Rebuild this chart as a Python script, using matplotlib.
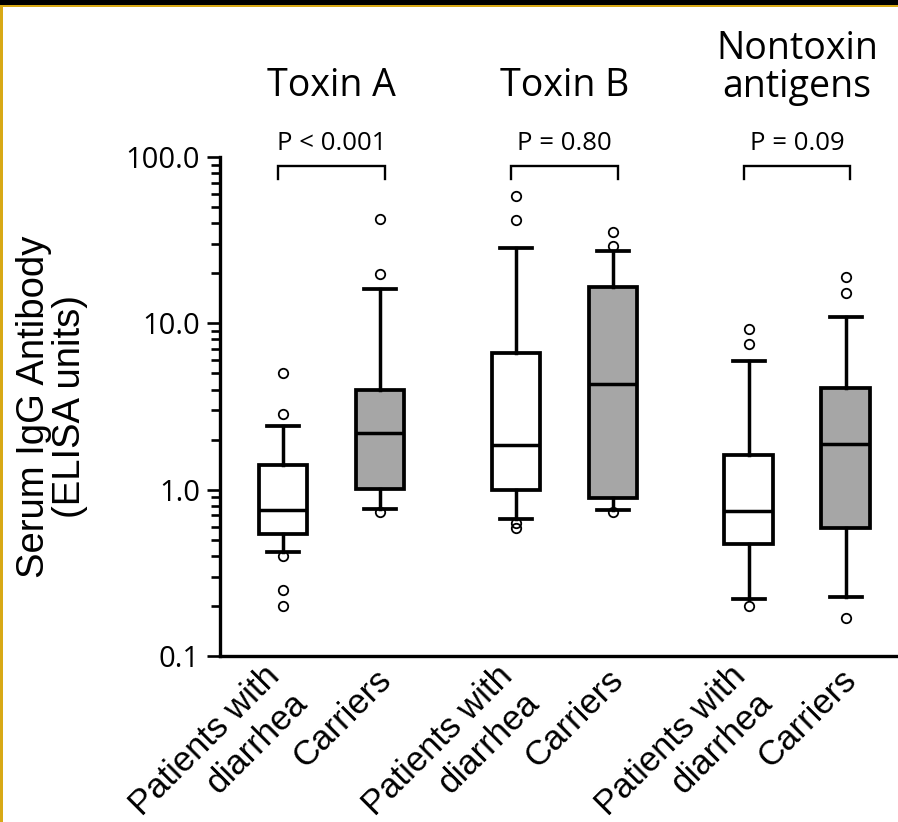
import matplotlib
matplotlib.use('Agg')
import matplotlib.pyplot as plt
import matplotlib.ticker as mticker
import matplotlib.transforms as mtrans
from matplotlib.patches import Rectangle

# data
groups = ['Toxin A', 'Toxin B', 'Nontoxin\nantigens']
pvalues = ['P < 0.001', 'P = 0.80', 'P = 0.09']
labels = ['Patients with\ndiarrhea', 'Carriers'] * 3
positions = [0, 1, 2.4, 3.4, 4.8, 5.8]
q1 = [0.54, 1.01, 1.00, 0.89, 0.47, 0.59]
med = [0.75, 2.18, 1.85, 4.33, 0.74, 1.88]
q3 = [1.41, 3.98, 6.62, 16.5, 1.61, 4.08]
whislo = [0.42, 0.77, 0.67, 0.755, 0.22, 0.225]
whishi = [2.4, 16.0, 28.4, 27.3, 5.93, 10.9]
fliers = [[5.0, 2.86, 0.40, 0.249, 0.199],
          [42.2, 19.7, 0.73],
          [58.5, 41.7, 0.63, 0.59],
          [35.5, 29.1, 0.73],
          [9.3, 7.55, 0.20],
          [19.0, 15.2, 0.17]]
fills = ['white', '#a6a6a6'] * 3

stats = []
for i in range(len(positions)):
    stats.append(dict(med=med[i], q1=q1[i], q3=q3[i], whislo=whislo[i],
                      whishi=whishi[i], fliers=fliers[i]))

fig = plt.figure(figsize=(8.98, 8.22), dpi=100)
ax = fig.add_axes([220/898, 166/822, 1 - 220/898, 499/822])

bp = ax.bxp(stats, positions=positions, widths=0.5, capwidths=0.33,
            patch_artist=True,
            boxprops=dict(linewidth=2.7, edgecolor='black'),
            whiskerprops=dict(linewidth=2.5, color='black'),
            capprops=dict(linewidth=2.7, color='black'),
            medianprops=dict(linewidth=2.5, color='black'),
            flierprops=dict(marker='o', markerfacecolor='none',
                            markeredgecolor='black', markersize=6.8,
                            markeredgewidth=1.3))
for patch, c in zip(bp['boxes'], fills):
    patch.set_facecolor(c)

ax.set_yscale('log')
ax.set_ylim(0.1, 100)
ax.set_xlim((220 - 283) / 97, (898 - 283) / 97)

ax.yaxis.set_major_locator(mticker.FixedLocator([0.1, 1, 10, 100]))
ax.yaxis.set_major_formatter(mticker.FixedFormatter(['0.1', '1.0', '10.0', '100.0']))
ax.yaxis.set_minor_locator(mticker.LogLocator(base=10, subs=range(2, 10)))
ax.yaxis.set_minor_formatter(mticker.NullFormatter())
ax.tick_params(axis='y', which='major', length=9.5, width=1.9, direction='out', pad=5)
ax.tick_params(axis='y', which='minor', length=6.5, width=1.9, direction='out')
for lab in ax.get_yticklabels():
    lab.set_fontfamily('Open Sans')
    lab.set_fontsize(21)

ax.set_xticks(positions)
ax.set_xticklabels(labels, rotation=45, ha='right', va='top',
                   rotation_mode='anchor', fontsize=25,
                   fontfamily='Liberation Sans', multialignment='right')
ax.tick_params(axis='x', length=0, pad=3)
for i, lab in enumerate(ax.get_xticklabels()):
    dx = -20 if i % 2 == 0 else -6
    dy = 1 if i % 2 == 0 else -3
    lab.set_transform(lab.get_transform() +
                      mtrans.ScaledTranslation(dx/100, dy/100, fig.dpi_scale_trans))

for s in ['top', 'right']:
    ax.spines[s].set_visible(False)
for s in ['left', 'bottom']:
    ax.spines[s].set_linewidth(2.4)

# brackets, P values, group titles
tr = mtrans.blended_transform_factory(ax.transData, fig.transFigure)
for g in range(3):
    a = positions[2 * g] - 0.05
    b = positions[2 * g + 1] + 0.05
    ax.plot([a, a, b, b], [73.8, 87.9, 87.9, 73.8], color='black', lw=1.7,
            clip_on=False, solid_joinstyle='miter')
    mid = (positions[2 * g] + positions[2 * g + 1]) / 2
    ax.text(mid, 672/822, pvalues[g], transform=tr, ha='center', va='baseline',
            fontsize=18.5, fontfamily='Open Sans')
    ax.text(mid, 725.5/822, groups[g], transform=tr, ha='center', va='baseline',
            fontsize=27, fontfamily='Open Sans', linespacing=0.98)

fig.text(52/898, 415/822, 'Serum IgG Antibody\n(ELISA units)', rotation=90,
         ha='center', va='center', fontsize=27.5, fontfamily='Liberation Sans',
         linespacing=1.0)

# frame decoration of the original page
fig.patches.append(Rectangle((0, 817/822), 1, 5/822, transform=fig.transFigure,
                             facecolor='black', edgecolor='none'))
fig.patches.append(Rectangle((0, 815/822), 1, 2/822, transform=fig.transFigure,
                             facecolor='#d8a916', edgecolor='none'))
fig.patches.append(Rectangle((0, 0), 2.5/898, 815/822, transform=fig.transFigure,
                             facecolor='#d8a916', edgecolor='none'))

fig.savefig('out.png', dpi=100)
